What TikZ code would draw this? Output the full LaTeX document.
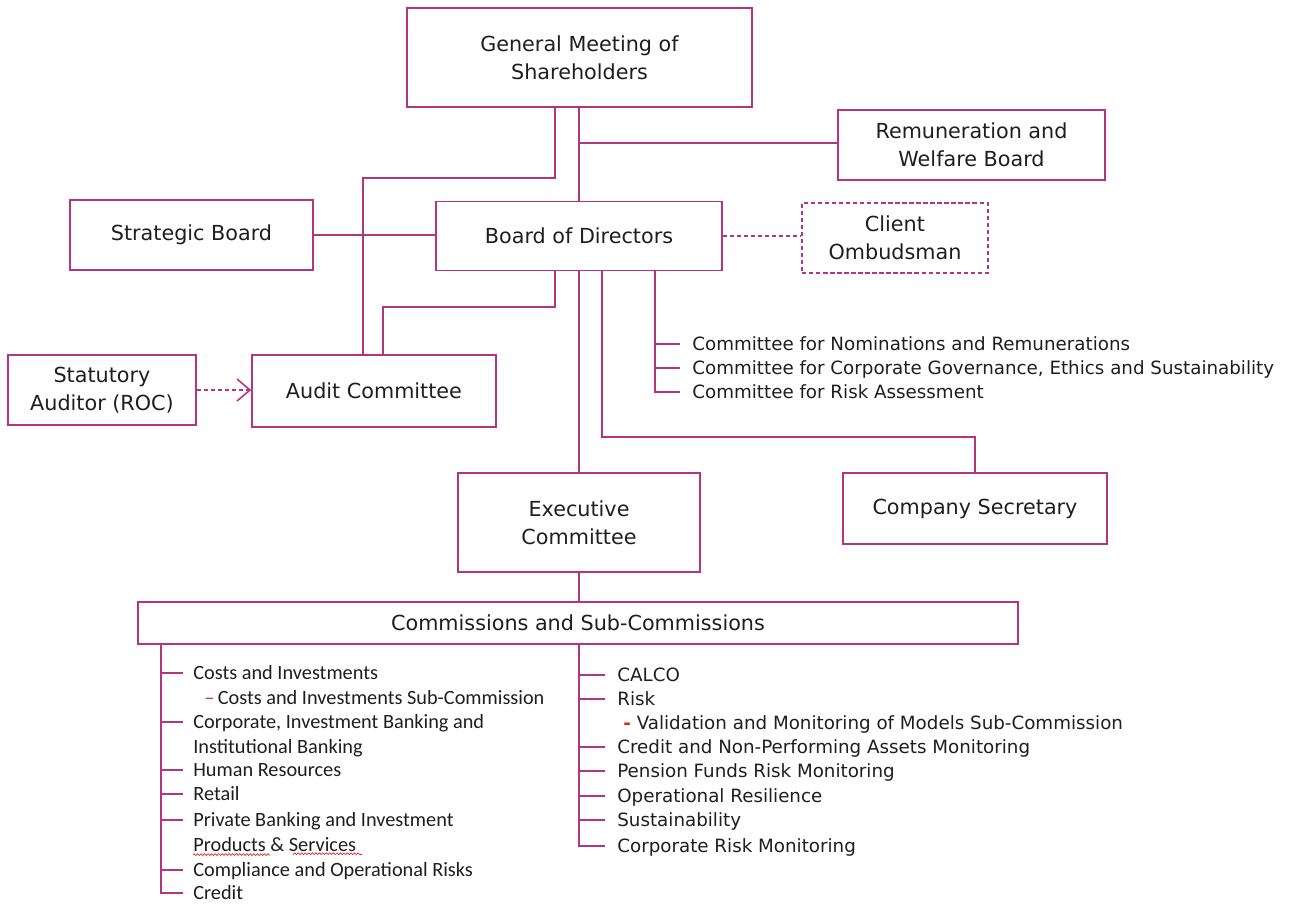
\documentclass[tikz,border=0pt]{standalone}
\usepackage{fontspec}
\setmainfont{DejaVu Sans}
\newfontfamily\calfont{Carlito}
\definecolor{cMag}{HTML}{B4357F}
\definecolor{cText}{HTML}{1E1E1E}
\definecolor{cRed}{HTML}{E0282F}
\usetikzlibrary{arrows.meta}
\usetikzlibrary{decorations.pathmorphing}

\tikzset{
  box/.style={draw=cMag, line width=0.9pt, align=center, text=cText, inner sep=0pt,
    font=\fontsize{11.8}{16}\selectfont},
  link/.style={draw=cMag, line width=0.9pt},
  fine/.style={dash pattern=on 2.5pt off 1.5pt},
  item/.style={anchor=west, inner sep=0pt, text=cText, text height=7.3pt, text depth=0pt,
    font=\fontsize{10.4}{13}\selectfont},
  citem/.style={item, font=\calfont\fontsize{11.55}{13}\selectfont},
}

\begin{document}
\begin{tikzpicture}[x=0.02cm, y=-0.02cm]
		\useasboundingbox (0,0) rectangle (1292,905);
		% boxes
		\node[box, minimum width=6.9cm, minimum height=1.98cm] (gms) at (579.5,57.5) {General Meeting of\\Shareholders};
		\node[box, minimum width=5.34cm, minimum height=1.4cm] (rem) at (971.5,145) {Remuneration and\\Welfare Board};
		\node[box, minimum width=4.86cm, minimum height=1.4cm] (strat) at (191.5,235) {Strategic Board};
		\node[box, minimum width=5.72cm, minimum height=1.38cm] (bod) at (579,236) {Board of Directors};
		\node[box, fine, minimum width=3.72cm, minimum height=1.4cm] (omb) at (895,238) {Client\\Ombudsman};
		\node[box, minimum width=3.76cm, minimum height=1.4cm] (stat) at (102,390) {Statutory\\Auditor (ROC)};
		\node[box, minimum width=4.88cm, minimum height=1.44cm] (audit) at (374,391) {Audit Committee};
		\node[box, minimum width=4.84cm, minimum height=1.98cm] (exec) at (579,522.5) {Executive\\Committee};
		\node[box, minimum width=5.28cm, minimum height=1.42cm] (csec) at (975,508.5) {Company Secretary};
		\node[box, minimum width=17.6cm, minimum height=0.84cm] (comm) at (578,623) {Commissions and Sub-Commissions};
		% board committees
		\node[item] (bc1) at (692,344) {Committee for Nominations and Remunerations};
		\node[item] (bc2) at (692,368) {Committee for Corporate Governance, Ethics and Sustainability};
		\node[item] (bc3) at (692,392) {Committee for Risk Assessment};
		% commissions, left column
		\node[citem] (lc1) at (193,673) {Costs and Investments};
		\node[citem] (lc2) at (204,698) {{\color{cMag}–}\,Costs and Investments Sub-Commission};
		\node[citem] (lc3) at (193,722) {Corporate, Investment Banking and};
		\node[citem] (lc4) at (193,747) {Institutional Banking};
		\node[citem] (lc5) at (193,770) {Human Resources};
		\node[citem] (lc6) at (193,794) {Retail};
		\node[citem] (lc7) at (193,820) {Private Banking and Investment};
		\node[citem] (lc8) at (193,845) {Products \& Services};
		\node[citem] (lc9) at (193,870) {Compliance and Operational Risks};
		\node[citem] (lc10) at (193,893) {Credit};
		% commissions, right column
		\node[item] (rc1) at (617,675) {CALCO};
		\node[item] (rc2) at (617,699) {Risk};
		\node[item] (rc3) at (623,723) {{\color{cRed}\textbf{-}} Validation and Monitoring of Models Sub-Commission};
		\node[item] (rc4) at (617,747) {Credit and Non-Performing Assets Monitoring};
		\node[item] (rc5) at (617,771) {Pension Funds Risk Monitoring};
		\node[item] (rc6) at (617,796) {Operational Resilience};
		\node[item] (rc7) at (617,820) {Sustainability};
		\node[item] (rc8) at (617,846) {Corporate Risk Monitoring};
		% connectors
		\draw[link] (gms.south -| 555,0) |- (363,178) -- (audit.north -| 363,0);
		\draw[link] (bod.north |- gms.south) -- (bod.north);
		\draw[link] (bod.north |- 0,143) -- (rem.west |- 0,143);
		\draw[link] (strat.east) -- (strat.east -| bod.west);
		\draw[link, fine] (bod.east) -- (bod.east -| omb.west);
		\draw[link] (bod.south -| 555,0) |- (383,307) -- (audit.north -| 383,0);
		\draw[link, fine, -{Straight Barb[length=2.6mm, width=4.4mm]}] (stat.east) -- (stat.east -| audit.west);
		\draw[link] (bod.south -| exec.north) -- (exec.north);
		\draw[link] (bod.south -| 602,0) |- (csec.north |- 0,437) -- (csec.north);
		\draw[link] (bod.south -| 655,0) |- ([xshift=-0.24cm]bc3.west);
		\draw[link] (bc1.west -| 655,0) -- ([xshift=-0.24cm]bc1.west);
		\draw[link] (bc2.west -| 655,0) -- ([xshift=-0.24cm]bc2.west);
		\draw[link] (exec.south) -- (exec.south |- comm.north);
		% left tree
		\draw[link] (comm.south -| 161,0) |- ([xshift=-0.2cm]lc10.west);
		\draw[link] (lc1.west -| 161,0) -- ([xshift=-0.2cm]lc1.west);
		\draw[link] (lc3.west -| 161,0) -- ([xshift=-0.2cm]lc3.west);
		\draw[link] (lc5.west -| 161,0) -- ([xshift=-0.2cm]lc5.west);
		\draw[link] (lc6.west -| 161,0) -- ([xshift=-0.2cm]lc6.west);
		\draw[link] (lc7.west -| 161,0) -- ([xshift=-0.2cm]lc7.west);
		\draw[link] (lc9.west -| 161,0) -- ([xshift=-0.2cm]lc9.west);
		% spelling marks
		\draw[cRed, line width=0.4pt, decorate, decoration={snake, amplitude=0.5pt, segment length=2pt}]
			([yshift=-1.6pt]lc8.south west) -- ++(76,0) ++(24,0) -- ++(69,0);
		% right tree
		\draw[link] (comm.south -| exec.south) |- ([xshift=-0.24cm]rc8.west);
		\draw[link] (rc1.west -| exec.south) -- ([xshift=-0.24cm]rc1.west);
		\draw[link] (rc2.west -| exec.south) -- ([xshift=-0.24cm]rc2.west);
		\draw[link] (rc4.west -| exec.south) -- ([xshift=-0.24cm]rc4.west);
		\draw[link] (rc5.west -| exec.south) -- ([xshift=-0.24cm]rc5.west);
		\draw[link] (rc6.west -| exec.south) -- ([xshift=-0.24cm]rc6.west);
		\draw[link] (rc7.west -| exec.south) -- ([xshift=-0.24cm]rc7.west);
\end{tikzpicture}
\end{document}
